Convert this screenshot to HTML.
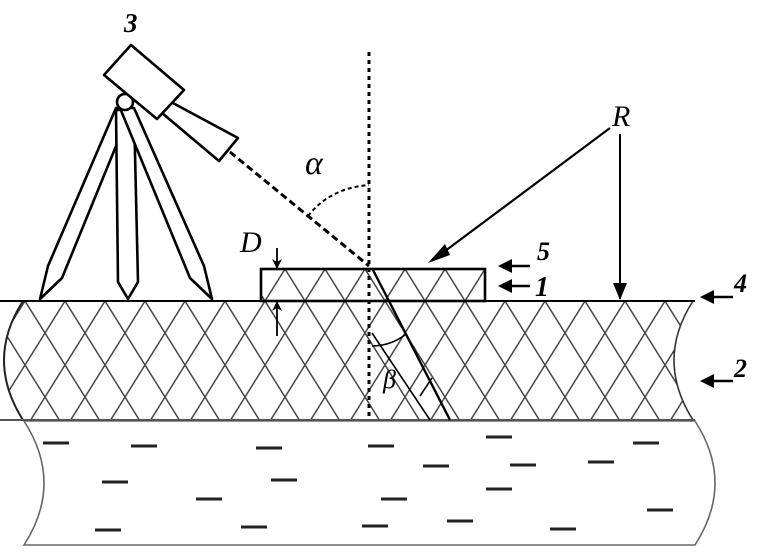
<!DOCTYPE html>
<html><head><style>html,body{margin:0;padding:0;background:#fff}svg{display:block}</style></head><body>
<svg width="760" height="560" viewBox="0 0 760 560" xmlns="http://www.w3.org/2000/svg">
<defs>
<pattern id="h" patternUnits="userSpaceOnUse" x="25" y="301" width="40" height="64">
<path d="M0,0L40,64M40,0L0,64M-40,0L0,64M40,64L80,0" stroke="#444" stroke-width="1.5" fill="none"/>
</pattern>
<marker id="a" markerWidth="10" markerHeight="10" refX="9" refY="5" orient="auto" markerUnits="userSpaceOnUse" viewBox="0 0 10 10"><path d="M0,0L10,5L0,10L3,5Z" fill="#000"/></marker>
</defs>
<!-- water -->
<path d="M24,421 L695,421 Q735,483 695,545 L24,545 Q64,483 24,421Z" fill="#fff" stroke="#666" stroke-width="1.6"/>
<g stroke="#222" stroke-width="3">
<path d="M43,443h26M131,446h26M256,448h26M368,446h26M486,437h26M633,443h26M423,466h26M510,465h26M588,462h26M102,482h26M271,480h26M196,499h26M381,499h26M486,489h26M647,510h26M95,530h26M241,527h26M362,526h26M447,521h26M550,529h26"/>
</g>
<!-- ice -->
<path d="M23,301 L693,301 Q655,360 693,420 L23,420 Q-15,360 23,301Z" fill="url(#h)" stroke="none"/>
<path d="M23,301 Q-15,360 23,420" fill="none" stroke="#222" stroke-width="2"/>
<path d="M693,301 Q655,360 693,420" fill="none" stroke="#333" stroke-width="1.6"/>
<line x1="0" y1="420" x2="695" y2="420" stroke="#555" stroke-width="2"/>
<line x1="0" y1="301" x2="695" y2="301" stroke="#000" stroke-width="2"/>
<!-- slab -->
<rect x="261" y="269" width="224" height="32" fill="url(#h)" stroke="#000" stroke-width="2.6"/>
<!-- tripod -->
<g fill="#fff" stroke="#000" stroke-width="2.6" stroke-linejoin="round">
<polygon points="116,108 130,112 62,278 40,299 48,266"/>
<polygon points="116,110 134,110 138,282 128,299 118,282"/>
<polygon points="120,108 134,108 204,266 212,299 190,278"/>
<circle cx="125" cy="102" r="8"/>
<polygon points="171,102 238,138 219,161 162,113"/>
<polygon points="131,45 104,75 157,119 184,90"/>
</g>
<!-- dashed lines -->
<line x1="369" y1="52" x2="369" y2="420" stroke="#000" stroke-width="3" stroke-dasharray="4,4"/>
<line x1="230" y1="152" x2="369" y2="266" stroke="#000" stroke-width="3" stroke-dasharray="7,4"/>
<path d="M308,216 Q330,188 369,185" fill="none" stroke="#000" stroke-width="2" stroke-dasharray="4,3"/>
<!-- refraction -->
<line x1="372" y1="268" x2="450" y2="420" stroke="#000" stroke-width="2.4"/>
<line x1="372" y1="333" x2="430" y2="420" stroke="#000" stroke-width="1.6"/>
<path d="M372,346 Q390,346 405,335" fill="none" stroke="#000" stroke-width="1.6"/>
<line x1="420" y1="396" x2="432" y2="378" stroke="#000" stroke-width="1.6"/>
<!-- D arrows -->
<line x1="277" y1="248" x2="277" y2="268" stroke="#000" stroke-width="1.8" marker-end="url(#a)"/>
<line x1="277" y1="336" x2="277" y2="302" stroke="#000" stroke-width="1.8" marker-end="url(#a)"/>
<!-- R arrows -->
<line x1="610" y1="128" x2="433" y2="260" stroke="#000" stroke-width="2.2"/>
<path d="M428,263 L445,244 L450,255Z" fill="#000"/>
<line x1="620" y1="134" x2="620" y2="299" stroke="#000" stroke-width="2"/>
<path d="M620,300 L613,283 L627,283Z" fill="#000"/>
<!-- side arrows -->
<g fill="#000" stroke="#000" stroke-width="2.5">
<line x1="530" y1="266" x2="506" y2="266"/><path d="M498,266 L512,259 L512,273Z" stroke="none"/>
<line x1="530" y1="286" x2="506" y2="286"/><path d="M498,286 L512,279 L512,293Z" stroke="none"/>
<line x1="733" y1="297" x2="710" y2="297"/><path d="M700,297 L714,290 L714,304Z" stroke="none"/>
<line x1="733" y1="381" x2="710" y2="381"/><path d="M700,381 L714,374 L714,388Z" stroke="none"/>
</g>
<!-- labels -->
<g font-family="Liberation Serif, serif" font-style="italic" fill="#000">
<text x="124" y="32" font-size="27" font-weight="bold">3</text>
<text x="305" y="174" font-size="34">α</text>
<text x="240" y="252" font-size="30">D</text>
<text x="537" y="260" font-size="26" font-weight="bold">5</text>
<text x="535" y="296" font-size="28" font-weight="bold">1</text>
<text x="734" y="292" font-size="26" font-weight="bold">4</text>
<text x="734" y="377" font-size="26" font-weight="bold">2</text>
<text x="612" y="126" font-size="30">R</text>
<text x="383" y="388" font-size="26">β</text>
</g>
</svg>
</body></html>
